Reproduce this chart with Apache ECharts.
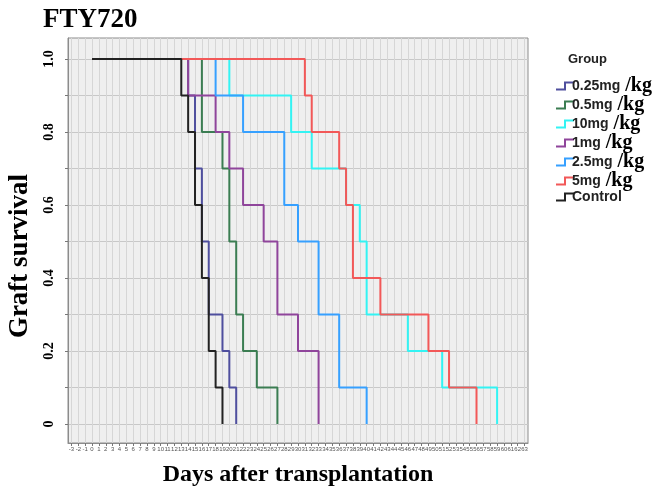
<!DOCTYPE html>
<html>
<head>
<meta charset="utf-8">
<script src="https://cdn.jsdelivr.net/npm/echarts@6/dist/echarts.min.js"></script>
<style>
html,body{margin:0;padding:0;background:#fff}
#main{width:663px;height:494px}
</style>
</head>
<body>
<div id="main"></div>
<script>
// Kaplan-Meier steps: day of each event and survival after it
var groups = ['0.25mg', '0.5mg', '10mg', '1mg', '2.5mg', '5mg', 'Control'];
var colors = ['#4f4f9e', '#3b7d52', '#33f3f3', '#8f459b', '#36a0ff', '#f25858', '#222222'];

var days025 = [0, 14, 15, 16, 17, 19, 20, 21];
var surv025 = [1, 0.9, 0.7, 0.5, 0.3, 0.2, 0.1, 0];
var days05 = [0, 16, 19, 20, 21, 22, 24, 27];
var surv05 = [1, 0.8, 0.7, 0.5, 0.3, 0.2, 0.1, 0];
var days10 = [0, 20, 29, 32, 37, 39, 40, 46, 51, 59];
var surv10 = [1, 0.9, 0.8, 0.7, 0.6, 0.5, 0.3, 0.2, 0.1, 0];
var days1 = [0, 14, 18, 20, 22, 25, 27, 30, 33];
var surv1 = [1, 0.9, 0.8, 0.7, 0.6, 0.5, 0.3, 0.2, 0];
var days25 = [0, 18, 22, 28, 30, 33, 36, 40];
var surv25 = [1, 0.9, 0.8, 0.6, 0.5, 0.3, 0.1, 0];
var days5 = [0, 31, 32, 36, 37, 38, 42, 49, 52, 56];
var surv5 = [1, 0.9, 0.8, 0.7, 0.6, 0.4, 0.3, 0.2, 0.1, 0];
var daysCtrl = [0, 13, 14, 15, 16, 17, 18, 19];
var survCtrl = [1, 0.9, 0.8, 0.6, 0.4, 0.2, 0.1, 0];

var xTicks = [-3, -2, -1, 0, 1, 2, 3, 4, 5, 6, 7, 8, 9, 10, 11, 12, 13, 14, 15, 16, 17, 18, 19, 20,
  21, 22, 23, 24, 25, 26, 27, 28, 29, 30, 31, 32, 33, 34, 35, 36, 37, 38, 39, 40, 41, 42, 43,
  44, 45, 46, 47, 48, 49, 50, 51, 52, 53, 54, 55, 56, 57, 58, 59, 60, 61, 62, 63];
var yLabels = [0, 0.2, 0.4, 0.6, 0.8, 1.0];
var yGrid = [0, 0.1, 0.2, 0.3, 0.4, 0.5, 0.6, 0.7, 0.8, 0.9, 1.0];

var allDays = [days025, days05, days10, days1, days25, days5, daysCtrl];
var allSurv = [surv025, surv05, surv10, surv1, surv25, surv5, survCtrl];

var series = groups.map(function (g, i) {
  return {
    name: g,
    type: 'line',
    step: 'end',
    showSymbol: false,
    symbol: 'none',
    color: colors[i],
    lineStyle: { width: 2, color: colors[i] },
    data: allDays[i].map(function (d, k) { return [d, allSurv[i][k]]; })
  };
});

var myChart = echarts.init(document.getElementById('main'));
var option = {
  backgroundColor: '#ffffff',
  animation: false,
  title: [
    {
      text: 'FTY720',
      left: 38,
      top: 2,
      textStyle: { fontFamily: 'Liberation Serif', fontWeight: 'bold', fontSize: 27, color: '#000' }
    },
    {
      text: 'Group',
      left: 563,
      top: 48,
      textStyle: { fontFamily: 'Liberation Sans', fontWeight: 'bold', fontSize: 13, color: '#222' }
    }
  ],
  graphic: [{
    type: 'text',
    x: 20,
    y: 256,
    rotation: Math.PI / 2,
    style: {
      text: 'Graft survival',
      font: 'bold 27px "Liberation Serif"',
      fill: '#000',
      textAlign: 'center',
      textVerticalAlign: 'middle'
    }
  }],
  legend: {
    orient: 'vertical',
    left: 550,
    top: 71,
    itemGap: -1,
    itemWidth: 18,
    itemHeight: 7,
    icon: 'path://M0,7 L9,7 L9,0 L18,0',
    data: groups.map(function (g, i) {
      return { name: g, itemStyle: { color: 'transparent', borderColor: colors[i], borderWidth: 2 } };
    }),
    formatter: function (name) {
      return name === 'Control' ? '{a|Control}' : '{a|' + name + '}{b| /kg}';
    },
    textStyle: {
      padding: [0, 0, 0, -7],
      rich: {
        a: { fontFamily: 'Liberation Sans', fontWeight: 'bold', fontSize: 14, color: '#222', lineHeight: 20 },
        b: { fontFamily: 'Liberation Serif', fontWeight: 'bold', fontSize: 20, color: '#000', lineHeight: 20 }
      }
    }
  },
  grid: {
    left: 68,
    right: 135,
    top: 38,
    bottom: 51,
    show: true,
    backgroundColor: '#efefef',
    borderColor: '#8c8c8c',
    borderWidth: 1
  },
  xAxis: {
    type: 'value',
    min: -3.5,
    max: 63.5,
    name: 'Days after transplantation',
    nameLocation: 'middle',
    nameGap: 20,
    nameTextStyle: { fontFamily: 'Liberation Serif', fontWeight: 'bold', fontSize: 24, color: '#000' },
    axisLine: { show: true, onZero: false, lineStyle: { color: '#8c8c8c' } },
    axisTick: { show: true, customValues: xTicks, length: 3, lineStyle: { color: '#777' } },
    axisLabel: { customValues: xTicks, fontSize: 6, margin: 3, color: '#555', fontFamily: 'Liberation Sans' },
    splitLine: { show: true, lineStyle: { color: '#d6d6d6', width: 1 } }
  },
  yAxis: {
    type: 'value',
    min: -0.052,
    max: 1.0575,
    axisLine: { show: true, onZero: false, lineStyle: { color: '#8c8c8c' } },
    axisTick: { show: true, customValues: yGrid, length: 3, lineStyle: { color: '#777' } },
    axisLabel: {
      customValues: yLabels,
      rotate: 90,
      margin: 12,
      fontFamily: 'Liberation Serif',
      fontWeight: 'bold',
      fontSize: 14,
      color: '#000',
      formatter: function (v) { return v === 0 ? '0' : v.toFixed(1); }
    },
    splitLine: { show: true, lineStyle: { color: '#c8c8c8', width: 1 } }
  },
  series: series
};
myChart.setOption(option);
</script>
</body>
</html>
